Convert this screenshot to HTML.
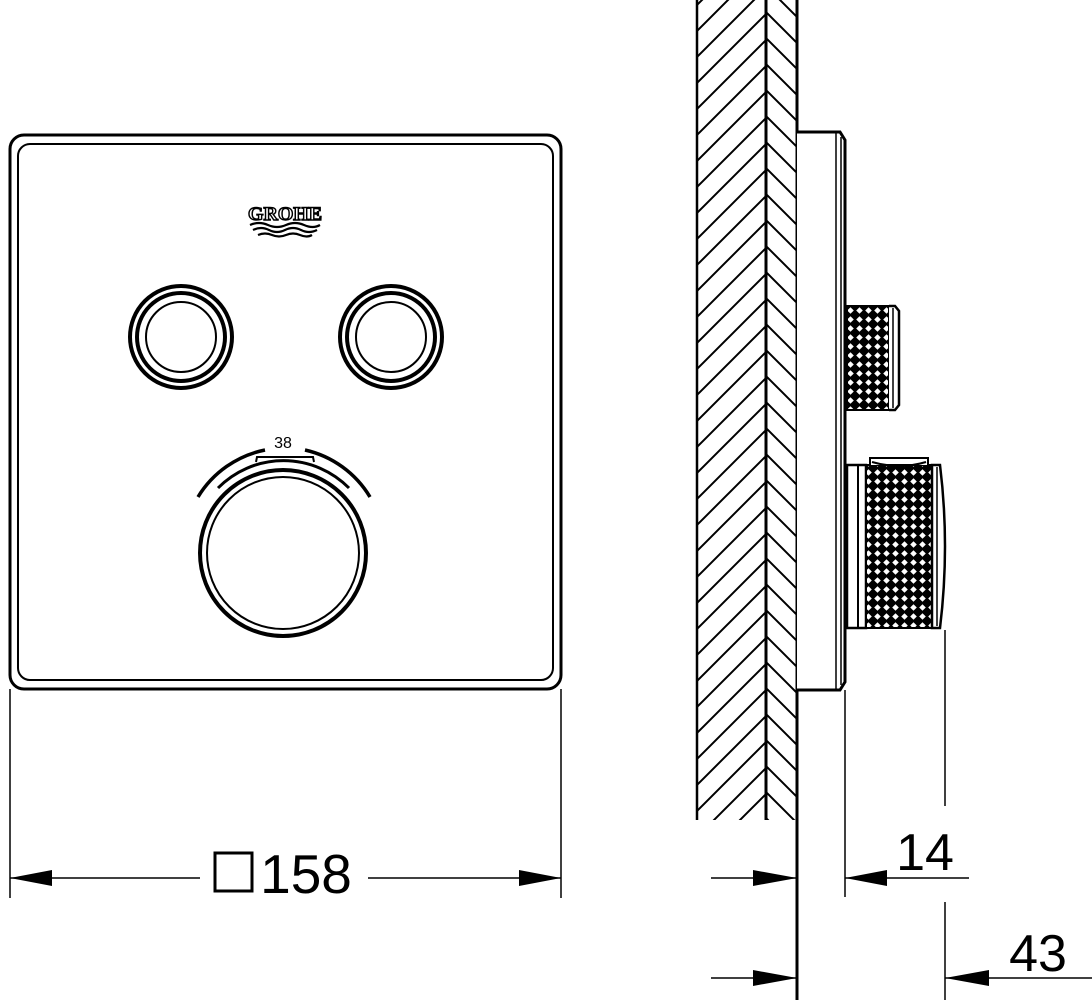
<!DOCTYPE html>
<html><head><style>html,body{margin:0;padding:0;background:#fff}svg{display:block}</style></head>
<body>
<svg width="1092" height="1006" viewBox="0 0 1092 1006" xmlns="http://www.w3.org/2000/svg">
<defs>
<pattern id="h1" patternUnits="userSpaceOnUse" width="26" height="26">
<path d="M-3,3 L3,-3 M-3,29 L29,-3 M23,29 L29,23" stroke="#000" stroke-width="2"/>
</pattern>
<pattern id="h2" patternUnits="userSpaceOnUse" width="26" height="26">
<path d="M23,-3 L29,3 M-3,-3 L29,29 M-3,23 L3,29" stroke="#000" stroke-width="2"/>
</pattern>
<pattern id="kn" patternUnits="userSpaceOnUse" width="9" height="9">
<rect width="9" height="9" fill="#000"/>
<path d="M4.5,1.2 L7.8,4.5 L4.5,7.8 L1.2,4.5 Z" fill="#fff"/>
</pattern>
</defs>
<g fill="none" stroke="#000" stroke-width="2">
<rect x="10" y="135" width="551" height="554" rx="14" stroke-width="3"/>
<rect x="18" y="144" width="535" height="536" rx="12" stroke-width="2"/>
<circle cx="181" cy="337" r="51" stroke-width="4"/>
<circle cx="181" cy="337" r="44" stroke-width="4"/>
<circle cx="181" cy="337" r="35" stroke-width="2"/>
<circle cx="391" cy="337" r="51" stroke-width="4"/>
<circle cx="391" cy="337" r="44" stroke-width="4"/>
<circle cx="391" cy="337" r="35" stroke-width="2"/>
<circle cx="283" cy="553" r="83" stroke-width="4"/>
<circle cx="283" cy="553" r="76" stroke-width="2"/>
<path d="M198,497 A102,102 0 0 1 265,450" stroke-width="3.5"/>
<path d="M305,450 A102,102 0 0 1 370,497" stroke-width="3.5"/>
<path d="M218,488 A92,92 0 0 1 349,488" stroke-width="3"/>
<path d="M256,462 L257,457 L313,457 L314,462" stroke-width="2"/>
<line x1="10" y1="689" x2="10" y2="898" stroke-width="1.5"/>
<line x1="561" y1="689" x2="561" y2="898" stroke-width="1.5"/>
<line x1="10" y1="878" x2="200" y2="878" stroke-width="1.5"/>
<line x1="368" y1="878" x2="561" y2="878" stroke-width="1.5"/>
<rect x="215" y="853" width="37" height="38" stroke-width="3"/>
</g>
<path d="M10,878 L52,870 L52,886 Z" fill="#000"/>
<path d="M561,878 L519,870 L519,886 Z" fill="#000"/>
<text x="306" y="893" font-family="Liberation Sans, sans-serif" font-size="55" text-anchor="middle">158</text>
<text x="283" y="448" font-family="Liberation Sans, sans-serif" font-size="16" text-anchor="middle">38</text>
<text x="285" y="220" font-family="Liberation Serif, serif" font-size="19" font-weight="bold" text-anchor="middle" fill="#fff" stroke="#000" stroke-width="1.4" textLength="74" lengthAdjust="spacingAndGlyphs">GROHE</text>
<path d="M250,225 q9,-4 18,0 t18,0 t18,0 t16,0 M253,230 q8,-4 16,0 t16,0 t16,0 t16,0 M258,235 q7,-3 14,0 t14,0 t14,0 t12,0" fill="none" stroke="#000" stroke-width="2.2"/>

<rect x="697" y="0" width="69" height="820" fill="url(#h1)"/>
<rect x="766" y="0" width="31" height="820" fill="url(#h2)"/>
<g fill="none" stroke="#000">
<line x1="697" y1="0" x2="697" y2="820" stroke-width="2.5"/>
<line x1="766" y1="0" x2="766" y2="820" stroke-width="3"/>
<line x1="797" y1="0" x2="797" y2="1000" stroke-width="3"/>
<path d="M797,132 L840,132 L845,140 L845,682 L840,690 L797,690" stroke-width="3" fill="#fff"/>
<line x1="836" y1="133" x2="836" y2="689" stroke-width="1.5"/>
<line x1="841" y1="137" x2="841" y2="685" stroke-width="1.5"/>
<rect x="847" y="306" width="42" height="104" fill="url(#kn)" stroke-width="2"/>
<path d="M889,306 L895,306 L899,311 L899,405 L895,410 L889,410" stroke-width="2.5" fill="#fff"/>
<line x1="893" y1="308" x2="893" y2="408" stroke-width="1.5"/>
<rect x="847" y="465" width="19" height="163" fill="#fff" stroke-width="2.5"/>
<line x1="858" y1="465" x2="858" y2="628" stroke-width="2"/>
<rect x="866" y="465" width="66" height="163" fill="url(#kn)" stroke-width="2"/>
<path d="M870,465 L870,458 L928,458 L928,465 M872,462 Q899,470 926,462" stroke-width="2" fill="#fff"/>
<path d="M932,465 L940,465 Q950,546 940,628 L932,628 Z" stroke-width="2.5" fill="#fff"/>
<line x1="937" y1="467" x2="937" y2="626" stroke-width="1.5"/>
<line x1="845" y1="690" x2="845" y2="897" stroke-width="1.5"/>
<line x1="945" y1="630" x2="945" y2="806" stroke-width="1.5"/>
<line x1="945" y1="902" x2="945" y2="1000" stroke-width="1.5"/>
<line x1="711" y1="878" x2="797" y2="878" stroke-width="1.5"/>
<line x1="845" y1="878" x2="969" y2="878" stroke-width="1.5"/>
<line x1="711" y1="978" x2="797" y2="978" stroke-width="1.5"/>
<line x1="945" y1="978" x2="1092" y2="978" stroke-width="1.5"/>
</g>
<path d="M797,878 L753,870 L753,886 Z" fill="#000"/>
<path d="M845,878 L887,870 L887,886 Z" fill="#000"/>
<path d="M797,978 L753,970 L753,986 Z" fill="#000"/>
<path d="M945,978 L989,970 L989,986 Z" fill="#000"/>
<text x="925" y="870" font-family="Liberation Sans, sans-serif" font-size="52" text-anchor="middle">14</text>
<text x="1038" y="971" font-family="Liberation Sans, sans-serif" font-size="52" text-anchor="middle">43</text>
</svg>
</body></html>
